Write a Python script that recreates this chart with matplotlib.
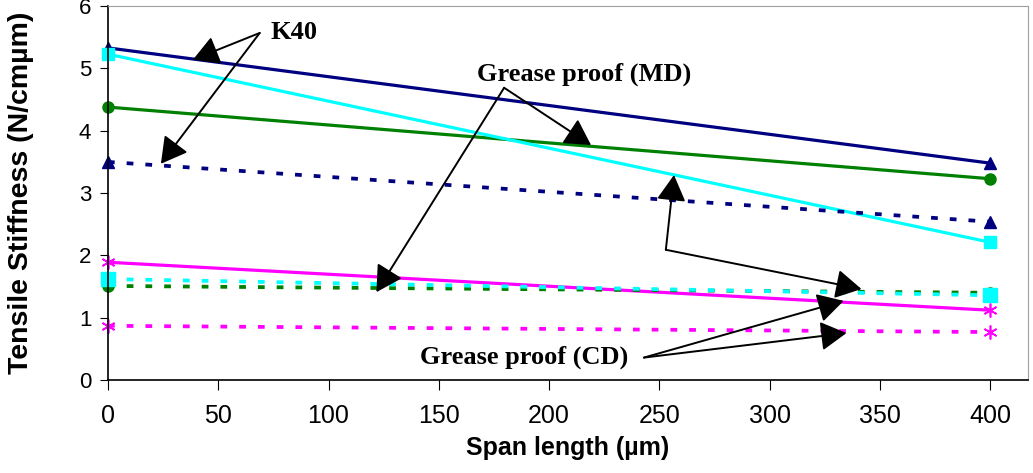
import matplotlib
matplotlib.use('Agg')
import matplotlib.pyplot as plt
import numpy as np

plt.rcParams['font.family'] = ['Liberation Sans', 'DejaVu Sans']

# %% data (span length in um, stiffness in N/cm um)
span = np.array([0, 400])

k40_md = [5.33, 3.48]
gp_md = [4.38, 3.23]
cyan_md = [5.23, 2.21]
mag_md = [1.89, 1.12]

k40_cd = [3.50, 2.54]
gp_cd = [1.51, 1.40]
cyan_cd = [1.62, 1.36]
mag_cd = [0.87, 0.77]

xticks = np.arange(0, 401, 50)
yticks = np.arange(0, 7, 1)

navy = '#000080'
green = '#008000'
cyan = '#00FFFF'
magenta = '#FF00FF'
star = (6, 2, 0)

# %% figure
fig = plt.figure(figsize=(10.33, 4.73), dpi=100)
ax = fig.add_axes([0.1045, 0.1966, 0.8905, 0.7904])

solid = dict(lw=2.3, solid_capstyle='butt', clip_on=False)
dotted = dict(lw=2.7, ls=(0, (1.8, 3.2)), dash_capstyle='butt', clip_on=False)

ax.plot(span, k40_md, color=navy, marker='^', ms=9, **solid)
ax.plot(span, gp_md, color=green, marker='o', ms=8, **solid)
ax.plot(span, cyan_md, color=cyan, marker='s', ms=9, **solid)
ax.plot(span, mag_md, color=magenta, marker=star, ms=10, mew=1.2, **solid)

ax.plot(span, k40_cd, color=navy, marker='^', ms=9, **dotted)
ax.plot(span, gp_cd, color=green, marker='o', ms=8, **dotted)
ax.plot(span, cyan_cd, color=cyan, marker='s', ms=10, **dotted)
ax.plot(span, mag_cd, color=magenta, marker=star, ms=10, mew=1.2, **dotted)

ax.set_xlim(0, 417)
ax.set_ylim(0, 6)
ax.set_xticks(xticks)
ax.set_yticks(yticks)
ax.tick_params(axis='x', labelsize=18, length=7, direction='out', pad=10)
ax.tick_params(axis='y', labelsize=16, length=6, direction='out', pad=6)
ax.set_xlabel('Span length (µm)', fontsize=18, fontweight='bold', labelpad=6)
ax.set_ylabel('Tensile Stiffness (N/cmµm)', fontsize=20.5, fontweight='bold', labelpad=32)

for s in ['top', 'right']:
    ax.spines[s].set_color('#a0a0a0')
for s in ['left', 'bottom']:
    ax.spines[s].set_color('black')
    ax.spines[s].set_linewidth(1.2)

# %% annotations
arrow = dict(arrowstyle='-|>,head_length=0.8,head_width=0.45', color='black',
             lw=1.4, shrinkA=0, shrinkB=0, mutation_scale=20)
txt = dict(family='Liberation Serif', fontweight='bold', fontsize=19)

ax.text(73.5, 5.57, 'K40', ha='left', va='center', **txt)
for tip in [(38.5, 5.14), (24.0, 3.47)]:
    ax.annotate('', xy=tip, xytext=(68.8, 5.57), arrowprops=arrow)

ax.text(216, 4.90, 'Grease proof (MD)', ha='center', va='center', **txt)
for tip in [(219, 3.77), (121.7, 1.41)]:
    ax.annotate('', xy=tip, xytext=(179.6, 4.69), arrowprops=arrow)

for tip in [(256.6, 3.29), (341.6, 1.46)]:
    ax.annotate('', xy=tip, xytext=(252.9, 2.09), arrowprops=arrow)

ax.text(188.5, 0.37, 'Grease proof (CD)', ha='center', va='center', **txt)
for tip in [(333.5, 1.27), (334.8, 0.754)]:
    ax.annotate('', xy=tip, xytext=(243, 0.36), arrowprops=arrow)

fig.savefig('out.png', dpi=100)
